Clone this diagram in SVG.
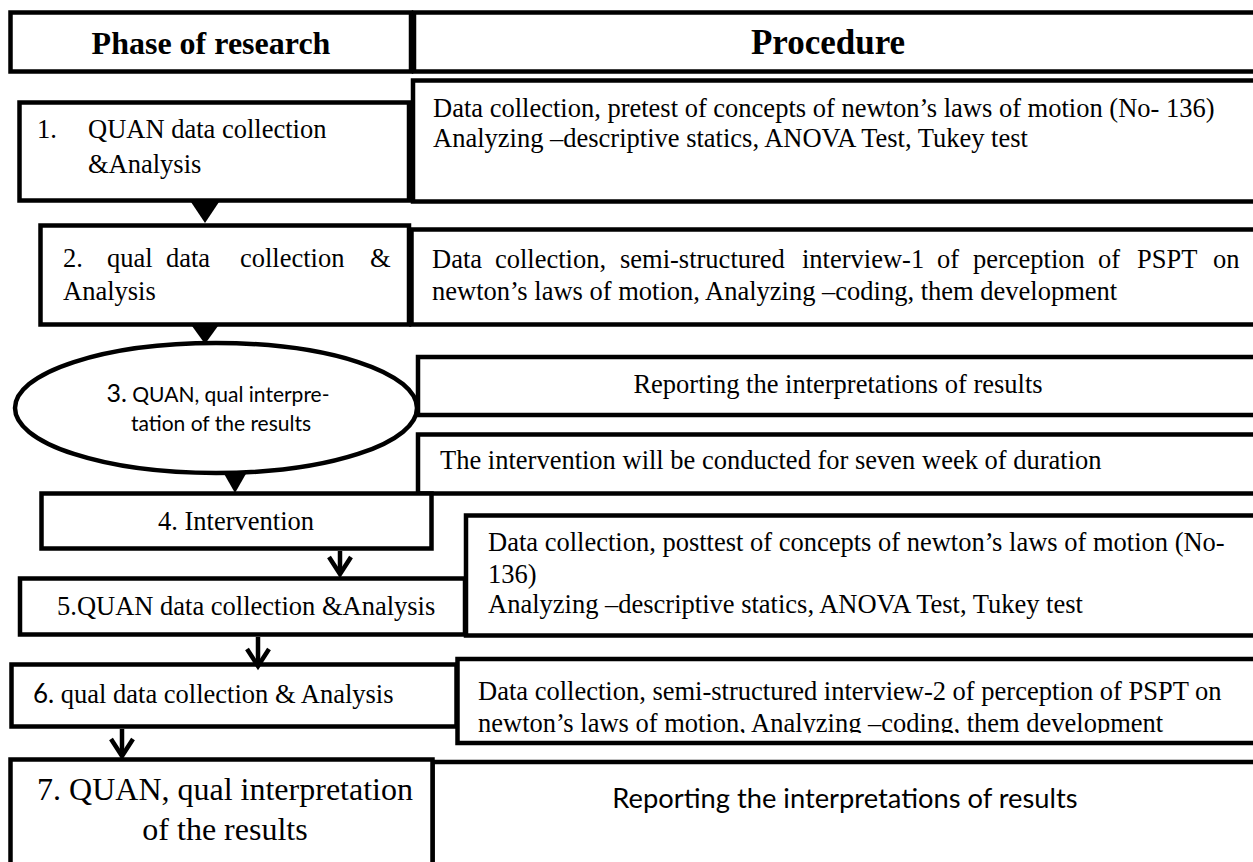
<svg xmlns="http://www.w3.org/2000/svg" width="1253" height="862" viewBox="0 0 1253 862">
  <defs>
    <style>
      .box{fill:#fff;stroke:#000;stroke-width:4.5}
      .serif{font-family:"Liberation Serif","Times New Roman",serif;fill:#000}
      .sans{font-family:Lato,"Noto Sans",sans-serif;fill:#000}
      .hd{font-size:32px;font-weight:bold}
      .hd-big{font-size:35px}
      .ph{font-size:26.5px}
      .pr{font-size:26.5px}
      .head{fill:#000}
      .chev{fill:none;stroke:#000;stroke-width:4.5;stroke-linecap:butt;stroke-linejoin:miter}
      .stem{stroke:#000;stroke-width:4.5}
    </style>
    <clipPath id="clip-proc6">
      <rect x="455" y="655" width="820" height="78"/>
    </clipPath>
  </defs>
  <rect width="1253" height="862" fill="#fff"/>

  <!-- column headers -->
  <g id="header-phase">
    <rect class="box" x="10.5" y="12.5" width="400.5" height="59"/>
    <text class="serif hd" x="211" y="54" text-anchor="middle">Phase of research</text>
  </g>
  <g id="header-procedure">
    <rect class="box" x="414" y="12.5" width="860" height="59"/>
    <text class="serif hd hd-big" x="828" y="54" text-anchor="middle">Procedure</text>
  </g>

  <!-- procedure boxes (right column) -->
  <g id="proc-1">
    <rect class="box" x="413" y="80.5" width="860" height="121"/>
    <text class="serif pr" x="433" y="117">Data collection, pretest of concepts of newton’s laws of motion (No- 136)</text>
    <text class="serif pr" x="433" y="147">Analyzing –descriptive statics, ANOVA Test, Tukey test</text>
  </g>
  <g id="proc-2">
    <rect class="box" x="411.5" y="229.5" width="860" height="95"/>
    <text class="serif pr" y="268"><tspan x="432">Data</tspan><tspan x="495">collection,</tspan><tspan x="620">semi-structured</tspan><tspan x="802">interview-1</tspan><tspan x="937">of</tspan><tspan x="973">perception</tspan><tspan x="1098">of</tspan><tspan x="1137">PSPT</tspan><tspan x="1213">on</tspan></text>
    <text class="serif pr" x="432" y="300">newton’s laws of motion, Analyzing –coding, them development</text>
  </g>
  <g id="proc-3">
    <rect class="box" x="418" y="357" width="860" height="58"/>
    <text class="serif pr" x="838" y="393" text-anchor="middle">Reporting the interpretations of results</text>
  </g>
  <g id="proc-4">
    <rect class="box" x="418" y="434.5" width="860" height="59"/>
    <text class="serif pr" x="440" y="469">The intervention will be conducted for seven week of duration</text>
  </g>
  <g id="proc-5">
    <rect class="box" x="466" y="515.5" width="860" height="120"/>
    <text class="serif pr" x="488" y="551">Data collection, posttest of concepts of newton’s laws of motion (No-</text>
    <text class="serif pr" x="488" y="583">136)</text>
    <text class="serif pr" x="488" y="613">Analyzing –descriptive statics, ANOVA Test, Tukey test</text>
  </g>
  <g id="proc-6">
    <rect class="box" x="457.5" y="659" width="860" height="84"/>
    <g clip-path="url(#clip-proc6)">
      <text class="serif pr" x="478" y="700">Data collection, semi-structured interview-2 of perception of PSPT on</text>
      <text class="serif pr" x="478" y="732">newton’s laws of motion, Analyzing –coding, them development</text>
    </g>
  </g>
  <g id="proc-7">
    <rect class="box" x="432.5" y="762" width="860" height="140"/>
    <text class="sans" font-size="27.3" x="845" y="808" text-anchor="middle">Reporting the interpretations of results</text>
  </g>

  <!-- research phases (left column) -->
  <g id="phase-1">
    <rect class="box" x="19.5" y="102.5" width="389.5" height="98"/>
    <text class="serif ph" x="37" y="138">1.</text>
    <text class="serif ph" x="88" y="138">QUAN data collection</text>
    <text class="serif ph" x="88" y="173">&amp;Analysis</text>
  </g>
  <g id="phase-2">
    <rect class="box" x="40.5" y="225.5" width="368.5" height="99"/>
    <text class="serif ph" y="267"><tspan x="63">2.</tspan><tspan x="107">qual</tspan><tspan x="166">data</tspan><tspan x="240">collection</tspan><tspan x="370">&amp;</tspan></text>
    <text class="serif ph" x="63" y="300">Analysis</text>
  </g>
  <g id="phase-3">
    <ellipse class="box" cx="216" cy="408" rx="201" ry="65"/>
    <text class="sans" font-size="21" x="218" y="402" text-anchor="middle"><tspan font-size="25">3.</tspan> QUAN, qual interpre-</text>
    <text class="sans" font-size="21" x="221" y="431" text-anchor="middle">tation of the results</text>
  </g>
  <g id="phase-4">
    <rect class="box" x="41.5" y="493.5" width="390" height="55"/>
    <text class="serif ph" x="236" y="530" text-anchor="middle">4. Intervention</text>
  </g>
  <g id="phase-5">
    <rect class="box" x="20" y="578.5" width="445" height="56"/>
    <text class="serif ph" x="57" y="615">5.QUAN data collection &amp;Analysis</text>
  </g>
  <g id="phase-6">
    <rect class="box" x="11.5" y="664.5" width="445" height="62"/>
    <text class="serif ph" x="33" y="703"><tspan class="sans" font-size="26">6.</tspan> qual data collection &amp; Analysis</text>
  </g>
  <g id="phase-7">
    <rect class="box" x="10.5" y="759.5" width="422" height="140"/>
    <text class="serif" font-size="32" x="225" y="800" text-anchor="middle">7. QUAN, qual interpretation</text>
    <text class="serif" font-size="32" x="225" y="840" text-anchor="middle">of the results</text>
  </g>

  <!-- connectors between phases -->
  <g id="connectors">
    <polygon class="head" points="191,202 219,202 205,223"/>
    <polygon class="head" points="192,326 218,326 205,344"/>
    <polygon class="head" points="223,472 247,472 235,493"/>
    <line class="stem" x1="340" y1="551" x2="340" y2="574"/>
    <polyline class="chev" points="329,557 340,574 351,557"/>
    <line class="stem" x1="258" y1="637" x2="258" y2="666"/>
    <polyline class="chev" points="247,649 258,666 269,649"/>
    <line class="stem" x1="122" y1="729" x2="122" y2="756"/>
    <polyline class="chev" points="111,739 122,756 133,739"/>
  </g>
</svg>
